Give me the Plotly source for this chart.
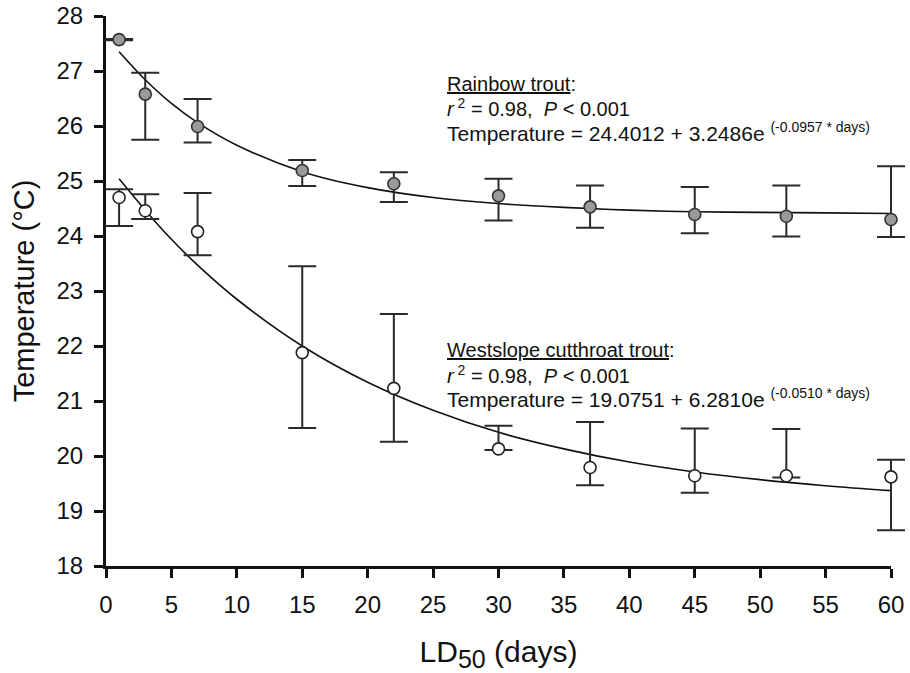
import plotly.graph_objects as go

# ---- data ----
days = [1, 3, 7, 15, 22, 30, 37, 45, 52, 60]

rb_mean = [27.57, 26.58, 25.99, 25.19, 24.95, 24.73, 24.53, 24.39, 24.36, 24.30]
rb_upper = [27.58, 26.97, 26.49, 25.38, 25.16, 25.04, 24.92, 24.89, 24.92, 25.27]
rb_lower = [27.56, 25.75, 25.70, 24.91, 24.62, 24.28, 24.15, 24.05, 23.99, 23.98]

wc_mean = [24.70, 24.46, 24.08, 21.88, 21.23, 20.13, 19.79, 19.64, 19.64, 19.62]
wc_upper = [24.85, 24.76, 24.78, 23.45, 22.58, 20.55, 20.62, 20.50, 20.49, 19.93]
wc_lower = [24.18, 24.31, 23.65, 20.51, 20.26, 20.11, 19.47, 19.33, 19.61, 18.65]

# fitted curves as drawn in the reference (read at sample days)
fit_days = [1, 3, 5, 7, 10, 15, 20, 25, 30, 35, 40, 45, 50, 55, 60]
rb_fit = [27.35, 26.84, 26.41, 26.06, 25.65, 25.17, 24.88, 24.70, 24.59, 24.52,
          24.47, 24.44, 24.43, 24.42, 24.41]
wc_fit = [25.04, 24.47, 23.94, 23.47, 22.85, 22.00, 21.34, 20.83, 20.43, 20.13,
          19.89, 19.71, 19.57, 19.46, 19.37]

x_ticks = [0, 5, 10, 15, 20, 25, 30, 35, 40, 45, 50, 55, 60]
y_ticks = [18, 19, 20, 21, 22, 23, 24, 25, 26, 27, 28]
X_RANGE = [0, 60]
Y_RANGE = [18, 28]

FONT = "Liberation Sans, Arial, Helvetica, sans-serif"
INK = "#111111"

# ---- layout geometry (pixels) ----
W, H = 910, 673
ML, MR, MT, MB = 80, 0, 16, 107
AX_L, AX_R = 106, 891          # pixel positions of x = 0 and x = 60
PW = W - ML - MR
ppu = (AX_R - AX_L) / (X_RANGE[1] - X_RANGE[0])
dom_x = [(AX_L - ML) / PW, (AX_R - ML) / PW]
# an invisible, wider data axis with the same scale (so error caps are not clipped)
data_xrange = [X_RANGE[0] - (AX_L - ML) / ppu, X_RANGE[1] + (W - MR - AX_R) / ppu]

fig = go.Figure()

# fitted curves (on the visible axes)
for fy in (rb_fit, wc_fit):
    fig.add_trace(go.Scatter(
        x=fit_days, y=fy, mode="lines", line=dict(color=INK, width=1.6, shape="spline"),
        hoverinfo="skip", showlegend=False, xaxis="x", yaxis="y"))


def err(mean, upper, lower):
    return dict(type="data", symmetric=False,
                array=[u - m for u, m in zip(upper, mean)],
                arrayminus=[m - l for m, l in zip(mean, lower)],
                color="#2a2a2a", thickness=2, width=14)


fig.add_trace(go.Scatter(
    x=days, y=rb_mean, mode="markers", name="Rainbow trout",
    error_y=err(rb_mean, rb_upper, rb_lower),
    marker=dict(size=12, color="#9a9a9a", line=dict(color="#333333", width=1.6)),
    showlegend=False, cliponaxis=False, xaxis="x2", yaxis="y2"))

fig.add_trace(go.Scatter(
    x=days, y=wc_mean, mode="markers", name="Westslope cutthroat trout",
    error_y=err(wc_mean, wc_upper, wc_lower),
    marker=dict(size=12, color="white", line=dict(color="#222222", width=1.6)),
    showlegend=False, cliponaxis=False, xaxis="x2", yaxis="y2"))


def py(px):
    return (H - MB - px) / (H - MB - MT)


def xp(px):
    return (px - ML) / PW


SUP = '<sup><span style="font-size:14px">{}</span></sup>'
blocks = [
    (84, ["<u>Rainbow trout</u>:",
          "<i>r</i><sup> 2</sup> = 0.98,&nbsp; <i>P</i> &lt; 0.001",
          "Temperature = 24.4012 + 3.2486e " + SUP.format("(-0.0957 * days)")]),
    (350, ["<u>Westslope cutthroat trout</u>:",
           "<i>r</i><sup> 2</sup> = 0.98,&nbsp; <i>P</i> &lt; 0.001",
           "Temperature = 19.0751 + 6.2810e " + SUP.format("(-0.0510 * days)")]),
]
for top, lines in blocks:
    for i, t in enumerate(lines):
        fig.add_annotation(
            x=xp(445), y=py(top + 24 * i), xref="paper", yref="paper",
            xanchor="left", yanchor="middle", showarrow=False, text=t,
            font=dict(family=FONT, size=21 if i == 2 else 20, color=INK))

axis_common = dict(
    showline=True, linewidth=3, linecolor=INK, ticks="outside", ticklen=9,
    tickwidth=2.5, tickcolor=INK, showgrid=False, zeroline=False,
    tickfont=dict(family=FONT, size=24, color=INK))

fig.update_layout(
    xaxis=dict(domain=dom_x, range=X_RANGE, tickvals=x_ticks,
               ticktext=[str(v) for v in x_ticks], ticklabelstandoff=6,
               title=dict(text='LD<sub><span style="font-size:25px">50</span></sub> (days)',
                          font=dict(family=FONT, size=30, color=INK), standoff=32),
               anchor="y", **axis_common),
    yaxis=dict(domain=[0, 1], range=Y_RANGE, tickvals=y_ticks,
               ticktext=[str(v) for v in y_ticks], ticklabelstandoff=6,
               title=dict(text="Temperature (°C)", font=dict(family=FONT, size=29, color=INK),
                          standoff=14),
               anchor="x", **axis_common),
    xaxis2=dict(domain=[0, 1], range=data_xrange, visible=False, anchor="y2"),
    yaxis2=dict(domain=[0, 1], range=Y_RANGE, visible=False, anchor="x2"),
    width=W, height=H, margin=dict(l=ML, r=MR, t=MT, b=MB, autoexpand=False),
    plot_bgcolor="rgba(0,0,0,0)", paper_bgcolor="white", showlegend=False,
    font=dict(family=FONT, color=INK))

fig.write_html("out.html")
